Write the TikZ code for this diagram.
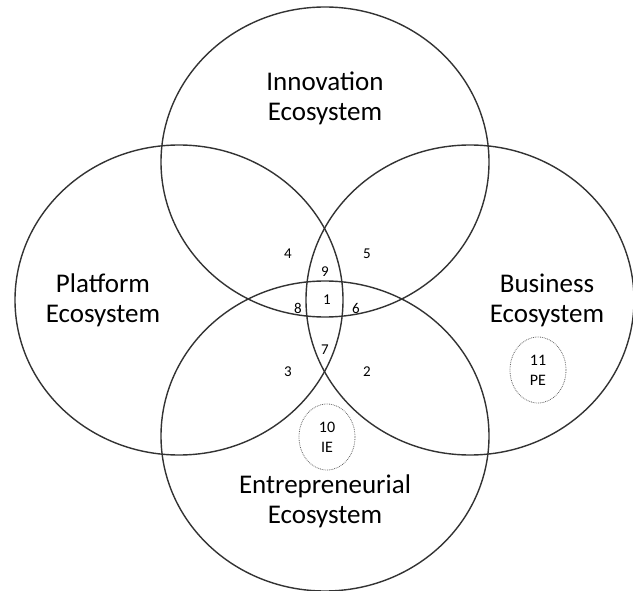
\documentclass[tikz,border=0pt]{standalone}
\usepackage{fontspec}
\setmainfont{Carlito}
\usetikzlibrary{shapes.geometric}

\begin{document}
\begin{tikzpicture}
[
    x = 1pt,
    y = -1pt,
    ecostyle/.style  = {ellipse,
                        draw=black!80,
                        line width=1.4pt,
                        minimum width=328pt,
                        minimum height=310pt,
                        inner sep=0pt},
    namestyle/.style = {align=center,
                        font=\fontsize{27}{30}\selectfont},
    numstyle/.style  = {font=\fontsize{15}{18}\selectfont},
    subsstyle/.style = {ellipse,
                        draw=black!60,
                        densely dotted,
                        line width=0.8pt,
                        minimum width=56pt,
                        minimum height=66pt,
                        inner sep=0pt,
                        align=center,
                        font=\fontsize{16}{20}\selectfont}
]

\useasboundingbox (0,0) rectangle (633,591);

% the four ecosystems
\node (inno) [ecostyle] at (325,162) {};
\node (plat) [ecostyle] at (179,300) {};
\node (busi) [ecostyle] at (470,300) {};
\node (entr) [ecostyle] at (325,436) {};

\node (innolabel) [namestyle] at (325,98) {
Innovation\\Ecosystem
};

\node (platlabel) [namestyle] at (103,300) {
Platform\\Ecosystem
};

\node (busilabel) [namestyle] at (547,300) {
Business\\Ecosystem
};

\node (entrlabel) [namestyle] at (325,501) {
Entrepreneurial\\Ecosystem
};

% overlap numbers
\node (n1) [numstyle] at (327,300) {1};
\node (n2) [numstyle] at (367,372) {2};
\node (n3) [numstyle] at (288,372) {3};
\node (n4) [numstyle] at (288,254) {4};
\node (n5) [numstyle] at (367,254) {5};
\node (n6) [numstyle] at (356,308) {6};
\node (n7) [numstyle] at (325,350) {7};
\node (n8) [numstyle] at (298,308) {8};
\node (n9) [numstyle] at (325,272) {9};

% the two small dotted ones
\node (ie) [subsstyle] at (327,437) {10\\IE};
\node (pe) [subsstyle] at (538,370) {11\\PE};

\end{tikzpicture}
\end{document}
